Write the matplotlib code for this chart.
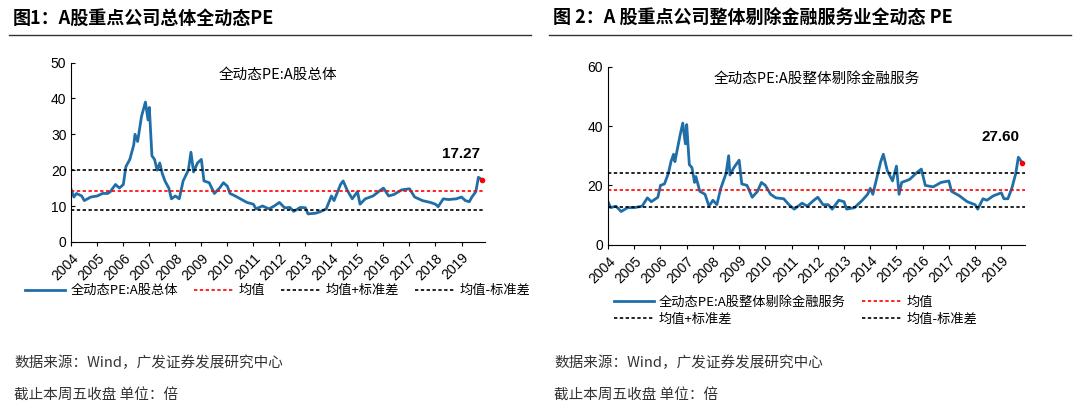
import matplotlib
matplotlib.use('Agg')
import matplotlib.pyplot as plt
from matplotlib.lines import Line2D

plt.rcParams['font.family'] = ['Noto Sans CJK SC']
plt.rcParams['axes.unicode_minus'] = False

# 图1 数据：A股总体全动态PE（按年份小数读取）
t1 = [2004.0, 2004.1, 2004.2, 2004.4, 2004.5, 2004.75, 2005.0, 2005.2, 2005.4, 2005.5, 2005.7, 2005.85,
      2006.0, 2006.1, 2006.25, 2006.4, 2006.45, 2006.55, 2006.7, 2006.85, 2006.95, 2007.0, 2007.1, 2007.2,
      2007.3, 2007.4, 2007.5, 2007.6, 2007.75, 2007.85, 2008.0, 2008.15, 2008.3, 2008.5, 2008.6, 2008.7,
      2008.85, 2009.0, 2009.1, 2009.3, 2009.5, 2009.7, 2009.85, 2010.0, 2010.1, 2010.3, 2010.5, 2010.75,
      2011.0, 2011.1, 2011.35, 2011.6, 2011.8, 2012.0, 2012.2, 2012.4, 2012.55, 2012.8, 2013.0, 2013.1,
      2013.4, 2013.6, 2013.8, 2014.0, 2014.1, 2014.35, 2014.45, 2014.6, 2014.8, 2015.0, 2015.1, 2015.3,
      2015.6, 2015.9, 2016.0, 2016.2, 2016.4, 2016.7, 2017.0, 2017.2, 2017.5, 2017.8, 2018.0, 2018.1,
      2018.3, 2018.5, 2018.8, 2019.0, 2019.15, 2019.3, 2019.4, 2019.55, 2019.65, 2019.8]
pe1 = [14.5, 12.5, 13.5, 12.8, 11.5, 12.5, 12.8, 13.5, 13.5, 14, 16, 15,
       16, 21, 23, 27, 30, 28, 35, 39, 34, 37.5, 24, 23,
       20, 22, 19, 17, 15, 12, 12.8, 12, 17, 20, 25, 19.5,
       22, 23, 17, 16.5, 13.5, 15, 16.5, 15.5, 13.5, 12.8, 12, 11,
       10.5, 9.2, 10, 9.2, 10, 11, 9.5, 9.6, 8.5, 9.6, 9.5, 7.8,
       8, 8.5, 9.2, 12.8, 11.5, 16, 17, 14.5, 12, 14, 10.5, 12,
       12.8, 14.5, 15, 12.8, 13.2, 14.5, 14.8, 12.5, 11.5, 11, 10.5, 9.8,
       12, 11.8, 12, 12.5, 11.5, 11.2, 12.5, 14, 18, 17.27]
mean1, up1, dn1 = 14.3, 20.0, 8.8

# 图2 数据：A股整体剔除金融服务全动态PE
t2 = [2004.0, 2004.1, 2004.3, 2004.5, 2004.75, 2005.0, 2005.3, 2005.5, 2005.65, 2005.9, 2006.0, 2006.15,
      2006.3, 2006.4, 2006.5, 2006.55, 2006.75, 2006.85, 2006.95, 2007.0, 2007.1, 2007.2, 2007.3, 2007.35,
      2007.5, 2007.7, 2007.85, 2008.0, 2008.15, 2008.3, 2008.5, 2008.6, 2008.65, 2008.8, 2009.0, 2009.1,
      2009.3, 2009.5, 2009.7, 2009.85, 2010.0, 2010.2, 2010.4, 2010.7, 2010.9, 2011.1, 2011.4, 2011.6,
      2011.85, 2012.0, 2012.2, 2012.4, 2012.55, 2012.8, 2013.0, 2013.1, 2013.4, 2013.7, 2013.9, 2014.0,
      2014.1, 2014.4, 2014.5, 2014.65, 2014.85, 2015.0, 2015.1, 2015.2, 2015.5, 2015.8, 2015.95, 2016.1,
      2016.4, 2016.7, 2017.0, 2017.1, 2017.4, 2017.7, 2018.0, 2018.1, 2018.3, 2018.45, 2018.7, 2019.0,
      2019.1, 2019.25, 2019.4, 2019.55, 2019.65, 2019.8]
pe2 = [14.5, 12.5, 13, 11.2, 12.5, 12.5, 13, 15.8, 14.5, 16, 20, 20.5,
       24, 28, 30.5, 28, 37, 41, 34, 40.5, 27, 26, 21, 23,
       18, 17, 13, 15, 13.5, 19, 24, 30, 23.5, 26, 28.5, 20.5,
       20, 16, 18, 21, 20, 17, 15.8, 15.5, 13.5, 12, 14, 13,
       15, 16, 13.5, 13.5, 12, 15, 14.5, 12, 12.5, 15, 17, 19,
       17, 28, 30.5, 25, 21.5, 26.5, 17, 21, 22, 24.5, 25.5, 20,
       19.5, 21, 21.5, 18, 16.5, 14.5, 13.5, 12, 15.5, 15, 16.5, 17.5,
       15.5, 15.5, 19, 24, 29.5, 27.6]
mean2, up2, dn2 = 18.5, 24.2, 12.7

years = list(range(2004, 2020))
blue = '#1f6ea8'

fig = plt.figure(figsize=(10.8, 4.12), dpi=100)

# 标题与分隔线
fig.text(0.012, 0.955, '图1：A股重点公司总体全动态PE', fontsize=13, fontweight='bold', va='center')
fig.text(0.512, 0.955, '图 2：A 股重点公司整体剔除金融服务业全动态 PE', fontsize=13, fontweight='bold', va='center')
for x0, x1 in [(0.008, 0.492), (0.508, 0.992)]:
    fig.add_artist(Line2D([x0, x1], [0.915, 0.915], color='#333333', lw=1))
    fig.text(x0 + 0.005, 0.12, '数据来源：Wind，广发证券发展研究中心', fontsize=10.5, color='#333333', va='center')
    fig.text(x0 + 0.005, 0.04, '截止本周五收盘 单位：倍', fontsize=10.5, color='#333333', va='center')

def panel(rect, t, pe, mean, up, dn, ylim, yticks, title, label, last, lab_y, ncol, anchor, order):
    ax = fig.add_axes(rect)
    h = []
    h += ax.plot(t, pe, color=blue, lw=2, label=label)
    h.append(ax.axhline(mean, color='red', ls=(0, (2, 1.5)), lw=1.2, label='均值'))
    h.append(ax.axhline(up, color='black', ls=(0, (2, 1.5)), lw=1.2, label='均值+标准差'))
    h.append(ax.axhline(dn, color='black', ls=(0, (2, 1.5)), lw=1.2, label='均值-标准差'))
    ax.plot(t[-1], pe[-1], 'o', color='red', ms=3, zorder=5)
    ax.text(t[-1] - 0.1, lab_y, last, ha='right', fontsize=11,
            fontweight='bold', family='Liberation Sans')
    ax.set_xlim(2004, 2019.9)
    ax.set_ylim(*ylim)
    ax.set_yticks(yticks)
    ax.set_xticks(years)
    ax.set_xticklabels([str(y) for y in years], rotation=45, ha='right', rotation_mode='anchor',
                       fontsize=10, family='Liberation Sans')
    ax.tick_params(axis='y', labelsize=10, direction='in', length=3)
    ax.tick_params(axis='x', direction='out', length=3)
    for lbl in ax.get_yticklabels():
        lbl.set_family('Liberation Sans')
    ax.spines['top'].set_visible(False)
    ax.spines['right'].set_visible(False)
    ax.text(0.5, 0.97, title, transform=ax.transAxes, ha='center', va='top', fontsize=10.5)
    hs = [h[i] for i in order]
    ax.legend(hs, [x.get_label() for x in hs], loc='upper center', bbox_to_anchor=anchor, ncol=ncol,
              frameon=False, fontsize=9.5, handlelength=3, columnspacing=1.2, handletextpad=0.4,
              labelspacing=0.3)
    return ax

panel([0.066, 0.413, 0.383, 0.435], t1, pe1, mean1, up1, dn1, (0, 50), [0, 10, 20, 30, 40, 50],
      '全动态PE:A股总体', '全动态PE:A股总体', '17.27', 23.5, 4, (0.5, -0.17), [0, 1, 2, 3])
panel([0.563, 0.406, 0.386, 0.432], t2, pe2, mean2, up2, dn2, (0, 60), [0, 20, 40, 60],
      '全动态PE:A股整体剔除金融服务', '全动态PE:A股整体剔除金融服务', '27.60', 35, 2, (0.45, -0.22),
      [0, 2, 1, 3])

fig.savefig('out.png', dpi=100)
